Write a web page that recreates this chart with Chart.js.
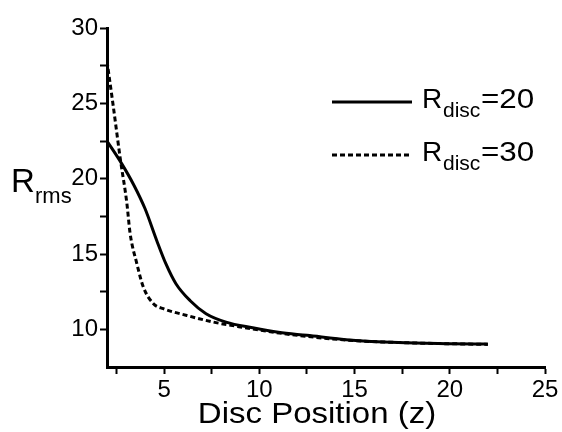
<!DOCTYPE html>
<html>
<head>
<meta charset="utf-8">
<script src="https://cdn.jsdelivr.net/npm/chart.js@4.4.1/dist/chart.umd.min.js"></script>
<style>
  html, body { margin: 0; padding: 0; background: #fff; }
  #wrap { width: 562px; height: 432px; }
</style>
</head>
<body>
<div id="wrap"><canvas id="c" width="562" height="432"></canvas></div>
<script>
// R_disc = 20 (solid)
const solidX = [2, 2.77, 3.4, 4.0, 4.61, 5.09, 5.62, 6.37, 7.2, 8.25, 9.65, 11, 12.5, 14.7, 17.3, 20, 22];
const solidY = [22.5, 21.0, 19.6, 18.0, 15.9, 14.36, 13.03, 11.9, 11.04, 10.48, 10.1, 9.8, 9.6, 9.3, 9.12, 9.05, 9.02];
// R_disc = 30 (dashed)
const dashX = [2, 2.33, 2.7, 3.04, 3.21, 3.56, 3.91, 4.44, 4.96, 6.19, 7.59, 8.82, 10, 12, 15, 18, 22];
const dashY = [27.8, 24.8, 21.3, 18.4, 16.4, 14.4, 12.8, 11.7, 11.37, 10.92, 10.48, 10.2, 9.95, 9.6, 9.25, 9.1, 9.0];

const xTicks = [2.5, 5, 7.5, 10, 12.5, 15, 17.5, 20, 22.5, 25];
const yTicks = [10, 12.5, 15, 17.5, 20, 22.5, 25, 27.5, 30];

const legendTail = ['=20', '=30'];
const xTitle = 'Disc Position (z)';

function pts(xs, ys) {
  return xs.map((x, i) => ({ x: x, y: ys[i] }));
}

const font = "'Liberation Sans', Arial, sans-serif";

const textPlugin = {
  id: 'texts',
  afterDraw(chart) {
    const ctx = chart.ctx;
    ctx.save();
    ctx.fillStyle = '#000';
    ctx.textBaseline = 'alphabetic';

    // x title
    ctx.save();
    ctx.font = '30px ' + font;
    ctx.textAlign = 'center';
    ctx.translate(317, 423);
    ctx.scale(1.1, 1);
    ctx.fillText(xTitle, 0, 0);
    ctx.restore();

    // y title R_rms
    ctx.textAlign = 'left';
    ctx.font = '33px ' + font;
    ctx.fillText('R', 11, 192);
    ctx.font = '22px ' + font;
    ctx.fillText('rms', 35, 203);

    // legend
    const rows = [102, 155];
    chart.data.datasets.forEach((ds, i) => {
      const y = rows[i];
      ctx.save();
      ctx.strokeStyle = '#000';
      ctx.lineWidth = 3;
      ctx.setLineDash(ds.borderDash || []);
      ctx.beginPath();
      ctx.moveTo(332, y);
      ctx.lineTo(412, y);
      ctx.stroke();
      ctx.restore();
      const base = y + 6;
      ctx.font = '28px ' + font;
      ctx.fillText('R', 422, base);
      ctx.font = '21px ' + font;
      ctx.fillText('disc', 443, base + 9);
      ctx.save();
      ctx.font = '28px ' + font;
      ctx.translate(481, base);
      ctx.scale(1.12, 1);
      ctx.fillText(legendTail[i], 0, 0);
      ctx.restore();
    });
    ctx.restore();
  }
};

new Chart(document.getElementById('c').getContext('2d'), {
  type: 'line',
  data: {
    datasets: [{
      label: 'R_disc=20',
      data: pts(solidX, solidY),
      borderColor: '#000',
      borderWidth: 3,
      pointRadius: 0,
      fill: false,
      cubicInterpolationMode: 'monotone'
    }, {
      label: 'R_disc=30',
      data: pts(dashX, dashY),
      borderColor: '#000',
      borderWidth: 3,
      borderDash: [5, 3],
      pointRadius: 0,
      fill: false,
      cubicInterpolationMode: 'monotone'
    }]
  },
  options: {
    responsive: false,
    animation: false,
    layout: { padding: { top: 28, right: 17, left: 0, bottom: 0 } },
    plugins: {
      legend: { display: false },
      tooltip: { enabled: false }
    },
    scales: {
      x: {
        type: 'linear',
        min: 2,
        max: 25,
        afterBuildTicks: s => { s.ticks = xTicks.map(v => ({ value: v })); },
        afterFit: s => { s.height = 65; },
        grid: { drawOnChartArea: false, tickLength: 7, tickWidth: 2, tickColor: '#000' },
        border: { color: '#000', width: 3 },
        ticks: {
          color: '#000',
          padding: 2,
          maxRotation: 0,
          autoSkip: false,
          font: { family: font, size: 24 },
          callback: v => (v % 5 === 0 ? String(v) : '')
        }
      },
      y: {
        type: 'linear',
        min: 7.5,
        max: 30,
        afterBuildTicks: s => { s.ticks = yTicks.map(v => ({ value: v })); },
        afterFit: s => { s.width = 107; },
        grid: { drawOnChartArea: false, tickLength: 7, tickWidth: 2, tickColor: '#000' },
        border: { color: '#000', width: 3 },
        ticks: {
          color: '#000',
          padding: 2,
          autoSkip: false,
          font: { family: font, size: 24 },
          callback: v => (v % 5 === 0 ? String(v) : '')
        }
      }
    }
  },
  plugins: [textPlugin]
});
</script>
</body>
</html>
